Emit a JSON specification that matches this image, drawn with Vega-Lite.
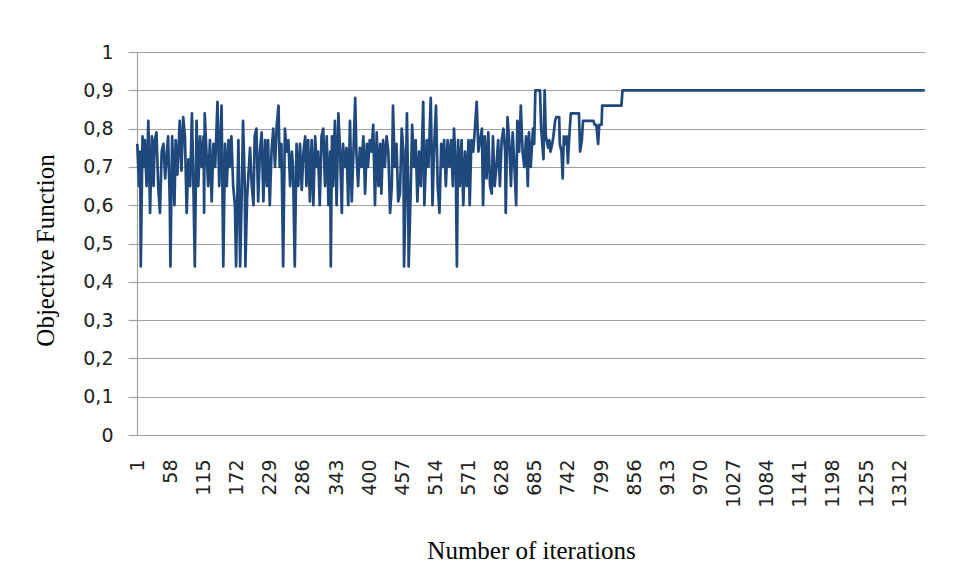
{
"$schema": "https://vega.github.io/schema/vega-lite/v6.json",
"width": 788, "height": 383,
"autosize": {"type": "none"},
"padding": {"left": 137, "top": 52, "right": 33, "bottom": 144},
"background": "white",
"config": {"view": {"stroke": null}},
"data": {"values": [
{"i":1,"v":0.76},{"i":4,"v":0.65},{"i":6,"v":0.74},{"i":7,"v":0.44},{"i":10,"v":0.78},{"i":12,"v":0.70},{"i":14,"v":0.77},{"i":17,"v":0.65},{"i":20,"v":0.82},{"i":23,"v":0.58},
{"i":26,"v":0.78},{"i":29,"v":0.65},{"i":31,"v":0.77},{"i":34,"v":0.79},{"i":37,"v":0.65},{"i":40,"v":0.58},{"i":43,"v":0.74},{"i":46,"v":0.76},{"i":49,"v":0.67},{"i":52,"v":0.74},
{"i":54,"v":0.78},{"i":57,"v":0.60},{"i":58,"v":0.44},{"i":61,"v":0.78},{"i":65,"v":0.60},{"i":67,"v":0.77},{"i":70,"v":0.68},{"i":74,"v":0.82},{"i":77,"v":0.69},{"i":80,"v":0.83},
{"i":83,"v":0.78},{"i":86,"v":0.58},{"i":89,"v":0.72},{"i":92,"v":0.65},{"i":95,"v":0.84},{"i":97,"v":0.70},{"i":100,"v":0.44},{"i":103,"v":0.82},{"i":106,"v":0.65},{"i":109,"v":0.78},
{"i":112,"v":0.70},{"i":115,"v":0.78},{"i":116,"v":0.58},{"i":117,"v":0.84},{"i":120,"v":0.74},{"i":123,"v":0.65},{"i":126,"v":0.77},{"i":129,"v":0.61},{"i":132,"v":0.76},{"i":135,"v":0.70},
{"i":139,"v":0.87},{"i":142,"v":0.65},{"i":146,"v":0.86},{"i":149,"v":0.44},{"i":152,"v":0.76},{"i":155,"v":0.65},{"i":158,"v":0.77},{"i":160,"v":0.70},{"i":163,"v":0.78},{"i":166,"v":0.65},
{"i":169,"v":0.60},{"i":171,"v":0.44},{"i":173,"v":0.61},{"i":175,"v":0.77},{"i":178,"v":0.44},{"i":181,"v":0.65},{"i":183,"v":0.82},{"i":186,"v":0.65},{"i":187,"v":0.44},{"i":190,"v":0.62},
{"i":195,"v":0.75},{"i":198,"v":0.65},{"i":201,"v":0.60},{"i":203,"v":0.78},{"i":206,"v":0.80},{"i":209,"v":0.61},{"i":212,"v":0.74},{"i":215,"v":0.79},{"i":218,"v":0.61},{"i":221,"v":0.77},
{"i":224,"v":0.65},{"i":226,"v":0.77},{"i":229,"v":0.60},{"i":232,"v":0.74},{"i":235,"v":0.80},{"i":238,"v":0.70},{"i":241,"v":0.81},{"i":244,"v":0.86},{"i":246,"v":0.70},{"i":249,"v":0.76},
{"i":252,"v":0.44},{"i":255,"v":0.80},{"i":258,"v":0.74},{"i":261,"v":0.77},{"i":264,"v":0.65},{"i":267,"v":0.74},{"i":269,"v":0.70},{"i":272,"v":0.44},{"i":275,"v":0.76},{"i":278,"v":0.65},
{"i":281,"v":0.76},{"i":284,"v":0.64},{"i":287,"v":0.74},{"i":290,"v":0.78},{"i":292,"v":0.65},{"i":295,"v":0.77},{"i":298,"v":0.61},{"i":301,"v":0.77},{"i":304,"v":0.60},{"i":307,"v":0.78},
{"i":310,"v":0.70},{"i":312,"v":0.74},{"i":315,"v":0.60},{"i":318,"v":0.78},{"i":321,"v":0.80},{"i":324,"v":0.65},{"i":327,"v":0.78},{"i":330,"v":0.60},{"i":333,"v":0.74},{"i":334,"v":0.44},
{"i":336,"v":0.78},{"i":338,"v":0.65},{"i":341,"v":0.82},{"i":344,"v":0.60},{"i":347,"v":0.84},{"i":350,"v":0.74},{"i":353,"v":0.58},{"i":355,"v":0.76},{"i":358,"v":0.70},{"i":361,"v":0.75},
{"i":364,"v":0.60},{"i":367,"v":0.82},{"i":370,"v":0.61},{"i":373,"v":0.74},{"i":376,"v":0.88},{"i":378,"v":0.74},{"i":381,"v":0.65},{"i":384,"v":0.75},{"i":387,"v":0.70},{"i":390,"v":0.78},
{"i":393,"v":0.63},{"i":396,"v":0.76},{"i":398,"v":0.70},{"i":401,"v":0.77},{"i":404,"v":0.74},{"i":407,"v":0.81},{"i":410,"v":0.60},{"i":413,"v":0.79},{"i":416,"v":0.65},{"i":419,"v":0.76},
{"i":421,"v":0.63},{"i":424,"v":0.77},{"i":427,"v":0.70},{"i":430,"v":0.78},{"i":433,"v":0.74},{"i":436,"v":0.58},{"i":439,"v":0.65},{"i":441,"v":0.86},{"i":444,"v":0.70},{"i":447,"v":0.76},
{"i":450,"v":0.61},{"i":453,"v":0.63},{"i":456,"v":0.80},{"i":459,"v":0.74},{"i":460,"v":0.44},{"i":463,"v":0.65},{"i":465,"v":0.84},{"i":467,"v":0.65},{"i":468,"v":0.44},{"i":471,"v":0.61},
{"i":474,"v":0.81},{"i":477,"v":0.70},{"i":480,"v":0.77},{"i":483,"v":0.61},{"i":486,"v":0.74},{"i":489,"v":0.65},{"i":493,"v":0.87},{"i":495,"v":0.60},{"i":499,"v":0.77},{"i":502,"v":0.70},
{"i":506,"v":0.88},{"i":509,"v":0.60},{"i":512,"v":0.76},{"i":515,"v":0.86},{"i":518,"v":0.65},{"i":521,"v":0.58},{"i":524,"v":0.76},{"i":526,"v":0.70},{"i":529,"v":0.77},{"i":532,"v":0.65},
{"i":535,"v":0.77},{"i":538,"v":0.70},{"i":541,"v":0.77},{"i":544,"v":0.65},{"i":546,"v":0.80},{"i":549,"v":0.70},{"i":551,"v":0.44},{"i":553,"v":0.77},{"i":556,"v":0.65},{"i":559,"v":0.77},
{"i":562,"v":0.60},{"i":565,"v":0.74},{"i":568,"v":0.65},{"i":571,"v":0.77},{"i":573,"v":0.60},{"i":576,"v":0.77},{"i":579,"v":0.74},{"i":582,"v":0.80},{"i":585,"v":0.87},{"i":588,"v":0.74},
{"i":591,"v":0.77},{"i":594,"v":0.80},{"i":596,"v":0.60},{"i":599,"v":0.78},{"i":602,"v":0.67},{"i":605,"v":0.79},{"i":608,"v":0.65},{"i":611,"v":0.63},{"i":613,"v":0.78},{"i":616,"v":0.65},
{"i":619,"v":0.70},{"i":622,"v":0.77},{"i":625,"v":0.65},{"i":628,"v":0.77},{"i":631,"v":0.80},{"i":634,"v":0.74},{"i":635,"v":0.58},{"i":638,"v":0.83},{"i":641,"v":0.77},{"i":644,"v":0.65},
{"i":647,"v":0.79},{"i":650,"v":0.70},{"i":653,"v":0.60},{"i":655,"v":0.82},{"i":658,"v":0.74},{"i":661,"v":0.86},{"i":664,"v":0.74},{"i":667,"v":0.70},{"i":670,"v":0.78},{"i":673,"v":0.65},
{"i":675,"v":0.79},{"i":678,"v":0.70},{"i":682,"v":0.80},{"i":684,"v":0.76},{"i":686,"v":0.90},{"i":694,"v":0.90},{"i":696,"v":0.80},{"i":700,"v":0.72},{"i":702,"v":0.90},{"i":704,"v":0.78},
{"i":708,"v":0.75},{"i":710,"v":0.77},{"i":712,"v":0.74},{"i":715,"v":0.76},{"i":717,"v":0.78},{"i":720,"v":0.82},{"i":722,"v":0.83},{"i":727,"v":0.83},{"i":728,"v":0.76},{"i":731,"v":0.74},
{"i":733,"v":0.67},{"i":735,"v":0.78},{"i":737,"v":0.76},{"i":740,"v":0.78},{"i":742,"v":0.71},{"i":744,"v":0.77},{"i":747,"v":0.84},{"i":761,"v":0.84},{"i":763,"v":0.74},{"i":766,"v":0.77},
{"i":768,"v":0.82},{"i":786,"v":0.82},{"i":788,"v":0.81},{"i":791,"v":0.81},{"i":794,"v":0.76},{"i":796,"v":0.81},{"i":800,"v":0.81},{"i":801,"v":0.86},{"i":834,"v":0.86},{"i":836,"v":0.90},
{"i":1356,"v":0.90}
]},
"mark": {"type": "line", "color": "#1F497D", "strokeWidth": 2.7, "strokeJoin": "round"},
"encoding": {
"x": {"field": "i", "type": "quantitative",
 "scale": {"domain": [0.5, 1356.5], "nice": false, "zero": false},
 "axis": {"values": [1,58,115,172,229,286,343,400,457,514,571,628,685,742,799,856,913,970,1027,1084,1141,1198,1255,1312],
  "format": "d",
  "labelAngle": -90, "labelAlign": "right", "labelBaseline": "middle", "labelOverlap": false, "labelFlush": false,
  "grid": false, "ticks": false, "tickSize": 0, "domainColor": "#a0a0a0", "domainWidth": 1.2,
  "labelFont": "DejaVu Sans", "labelFontSize": 19, "labelColor": "#222", "labelPadding": 24,
  "title": "Number of iterations", "titleFont": "Liberation Serif", "titleFontSize": 25, "titleFontWeight": "normal", "titleColor": "#000",
  "titleY": 123, "titleBaseline": "alphabetic"}},
"y": {"field": "v", "type": "quantitative",
 "scale": {"domain": [0, 1], "nice": false},
 "axis": {"values": [0,0.1,0.2,0.3,0.4,0.5,0.6,0.7,0.8,0.9,1],
  "labelExpr": "replace(format(datum.value, '.1~f'), '.', ',')",
  "grid": true, "gridColor": "#a0a0a0", "gridWidth": 1.2, "domainColor": "#a0a0a0", "domainWidth": 1.2,
  "tickColor": "#a0a0a0", "tickSize": 9, "tickWidth": 1.2, "labelPadding": 15,
  "labelFont": "DejaVu Sans", "labelFontSize": 19, "labelColor": "#222",
  "title": "Objective Function", "titleFont": "Liberation Serif", "titleFontSize": 25, "titleFontWeight": "normal", "titleColor": "#000",
  "titleX": -92, "titleY": 198, "titleAngle": 270, "titleBaseline": "middle", "titleAlign": "center"}}
}
}
